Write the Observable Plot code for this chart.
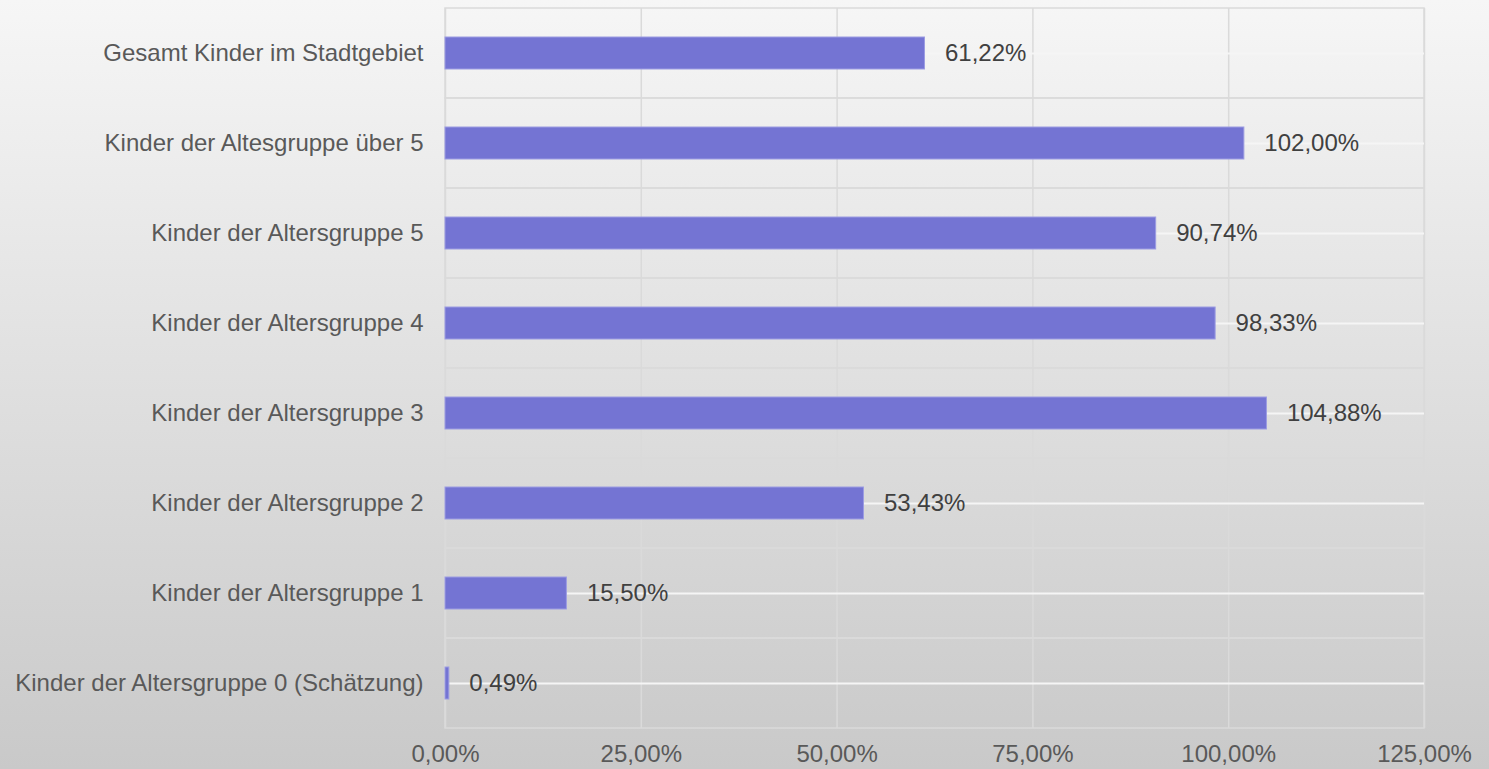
<!DOCTYPE html>
<html>
<head>
<meta charset="utf-8">
<script src="https://cdn.jsdelivr.net/npm/d3@7"></script>
<script src="https://cdn.jsdelivr.net/npm/@observablehq/plot@0.6"></script>
<style>
  html, body { margin: 0; padding: 0; width: 1489px; height: 769px; overflow: hidden; }
  body { background: linear-gradient(to bottom, #f6f6f6 0%, #c9c9c9 100%); font-family: "Liberation Sans", Arial, sans-serif; }
  #chart svg { display: block; background: transparent; }
</style>
</head>
<body>
<div id="chart"></div>
<script>
const categories = [
  "Gesamt Kinder im Stadtgebiet",
  "Kinder der Altesgruppe über 5",
  "Kinder der Altersgruppe 5",
  "Kinder der Altersgruppe 4",
  "Kinder der Altersgruppe 3",
  "Kinder der Altersgruppe 2",
  "Kinder der Altersgruppe 1",
  "Kinder der Altersgruppe 0 (Schätzung)"
];
const values = [61.22, 102.00, 90.74, 98.33, 104.88, 53.43, 15.50, 0.49];
const xTicks = [0, 25, 50, 75, 100, 125];

const fmt = d => d.toFixed(2).replace(".", ",") + "%";
const data = categories.map((c, i) => ({category: c, value: values[i]}));

const chart = Plot.plot({
  width: 1489,
  height: 769,
  marginLeft: 445,
  marginRight: 65,
  marginTop: 8,
  marginBottom: 41,
  style: {background: "transparent", fontFamily: "'Liberation Sans', Arial, sans-serif", fontSize: "24px"},
  x: {domain: [0, 125], label: null},
  y: {domain: categories, padding: 0, label: null},
  marks: [
    Plot.barX(categories, {y: d => d, x1: 0, x2: 125, fill: "none", stroke: "#dadada", strokeWidth: 1.5}),
    Plot.ruleX(xTicks, {x: d => d, stroke: "#dadada", strokeWidth: 1.5}),
    Plot.ruleY(categories, {y: d => d, x1: 0, x2: 125, stroke: "#f5f5f5", strokeWidth: 2}),
    Plot.barX(data, {y: "category", x: "value", fill: "#7474d3", stroke: "#9c9ce2", strokeWidth: 1, insetTop: 29, insetBottom: 29}),
    Plot.text(data, {y: "category", x: "value", text: d => fmt(d.value), dx: 20, textAnchor: "start", fill: "#404040", fontSize: 24}),
    Plot.axisX({ticks: xTicks, tickFormat: fmt, tickSize: 0, tickPadding: 16, fill: "#595959", fontSize: 24, label: null}),
    Plot.axisY({tickSize: 0, tickPadding: 22, fill: "#595959", fontSize: 24, label: null})
  ]
});
document.getElementById("chart").appendChild(chart);
</script>
</body>
</html>
